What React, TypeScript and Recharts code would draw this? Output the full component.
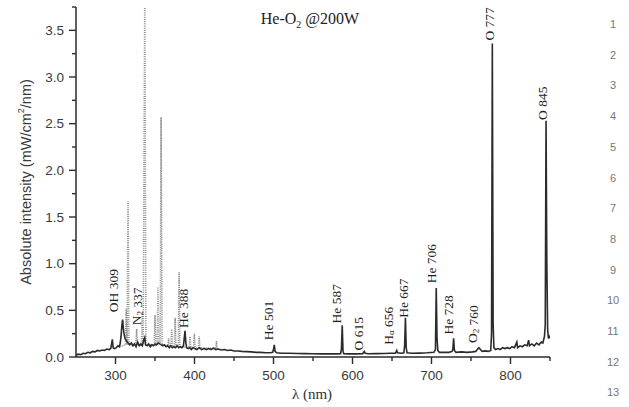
import { ComposedChart, Line, XAxis, YAxis, ReferenceDot } from "recharts";

// He-O2 plasma at 200 W, [wavelength (nm), intensity (mW/cm2/nm)]
const heO2Trace: [number, number][] = [
  [250, 0.02], [253, 0.03], [256, 0.025], [259, 0.04], [262, 0.035], [265, 0.05], [268, 0.045],
  [271, 0.06], [274, 0.055], [277, 0.07], [280, 0.065], [283, 0.075], [286, 0.07], [289, 0.085],
  [292, 0.08], [294, 0.09], [296, 0.19], [297, 0.1], [299, 0.09], [301, 0.1], [303, 0.12],
  [305, 0.11], [306, 0.15], [307, 0.22], [308, 0.33], [309, 0.4], [310, 0.3], [311, 0.24],
  [312, 0.2], [314, 0.17], [316, 0.15], [318, 0.13], [320, 0.15], [322, 0.12], [324, 0.14],
  [326, 0.11], [328, 0.16], [330, 0.12], [332, 0.14], [334, 0.12], [336, 0.19], [337, 0.21],
  [338, 0.13], [340, 0.12], [342, 0.14], [344, 0.11], [346, 0.13], [348, 0.12], [350, 0.14],
  [352, 0.13], [354, 0.15], [356, 0.14], [358, 0.13], [360, 0.12], [362, 0.13], [364, 0.11],
  [366, 0.12], [368, 0.1], [370, 0.12], [372, 0.1], [374, 0.11], [376, 0.1], [378, 0.12],
  [380, 0.1], [382, 0.11], [384, 0.1], [386, 0.12], [387, 0.2], [388, 0.28], [389, 0.16],
  [390, 0.1], [392, 0.09], [394, 0.1], [396, 0.08], [398, 0.1], [400, 0.09], [403, 0.08],
  [406, 0.1], [409, 0.08], [412, 0.09], [415, 0.08], [418, 0.09], [421, 0.08], [424, 0.095],
  [427, 0.08], [430, 0.085], [434, 0.075], [438, 0.08], [442, 0.07], [446, 0.075], [450, 0.065],
  [455, 0.065], [460, 0.06], [466, 0.058], [472, 0.055], [478, 0.05], [484, 0.05], [490, 0.045],
  [496, 0.045], [499, 0.05], [500, 0.08], [501, 0.13], [502, 0.06], [504, 0.045], [510, 0.04],
  [520, 0.04], [530, 0.038], [540, 0.036], [550, 0.035], [560, 0.034], [570, 0.033], [580, 0.033],
  [585, 0.035], [586, 0.09], [587, 0.34], [588, 0.06], [589, 0.035], [595, 0.033], [605, 0.033],
  [613, 0.035], [614, 0.05], [615, 0.06], [616, 0.04], [620, 0.035], [630, 0.036], [640, 0.038],
  [648, 0.04], [654, 0.04], [655, 0.05], [656, 0.07], [657, 0.045], [662, 0.04], [665, 0.045],
  [666, 0.12], [667, 0.42], [668, 0.1], [669, 0.045], [675, 0.04], [685, 0.042], [695, 0.045],
  [703, 0.05], [705, 0.08], [706, 0.74], [707, 0.2], [708, 0.07], [710, 0.05], [716, 0.05],
  [722, 0.05], [726, 0.06], [727, 0.08], [728, 0.2], [729, 0.07], [731, 0.05], [738, 0.055],
  [745, 0.05], [752, 0.055], [756, 0.06], [758, 0.08], [760, 0.1], [762, 0.08], [764, 0.06],
  [768, 0.065], [772, 0.06], [775, 0.07], [776, 0.25], [777, 3.36], [778, 0.35], [779, 0.1],
  [781, 0.08], [784, 0.09], [787, 0.08], [790, 0.1], [793, 0.09], [796, 0.1], [799, 0.09],
  [802, 0.11], [805, 0.1], [808, 0.16], [809, 0.1], [812, 0.12], [815, 0.11], [818, 0.13],
  [821, 0.12], [823, 0.18], [824, 0.12], [827, 0.14], [830, 0.12], [833, 0.15], [836, 0.13],
  [839, 0.16], [841, 0.15], [843, 0.22], [844, 0.35], [845, 2.53], [846, 1.0], [847, 0.3],
  [848, 0.2], [849, 0.22], [850, 0.2],
];

// N2 second positive bands (dotted trace)
const n2Trace: [number, number][] = [
  [305, 0.11], [312.5, 0.13], [313.6, 0.52], [314.6, 0.13], [315.9, 1.67], [317, 0.14],
  [325.5, 0.13], [326.8, 0.3], [328, 0.13], [332.8, 0.13], [333.9, 0.48], [335, 0.14],
  [337.1, 3.9], [338.5, 0.13], [349, 0.13], [350, 0.45], [351, 0.13], [352.7, 0.14],
  [353.7, 0.75], [354.8, 0.15], [356.6, 0.15], [357.7, 2.57], [359, 0.13], [366.2, 0.12],
  [367.2, 0.2], [368.2, 0.12], [370.1, 0.12], [371.1, 0.3], [372.1, 0.12], [374.5, 0.12],
  [375.5, 0.42], [376.5, 0.12], [379.5, 0.12], [380.5, 0.91], [381.5, 0.11], [393.3, 0.1],
  [394.3, 0.22], [395.3, 0.1], [398.8, 0.1], [399.8, 0.25], [400.8, 0.1], [404.9, 0.1],
  [405.9, 0.22], [406.9, 0.1], [426.8, 0.09], [427.8, 0.17], [428.8, 0.09],
];

// line labels: anchored at [nm, intensity] of the label's lower end
const peakLabels = [
  { pre: "OH 309", nm: 297, at: 0.48 },
  { pre: "N", sub: "2", post: " 337", nm: 327, at: 0.34 },
  { pre: "He 388", nm: 386, at: 0.31 },
  { pre: "He 501", nm: 494, at: 0.18 },
  { pre: "He 587", nm: 580, at: 0.36 },
  { pre: "O 615", nm: 608, at: 0.07 },
  { pre: "H", sub: "α", post: " 656", nm: 645, at: 0.13 },
  { pre: "He 667", nm: 665, at: 0.42 },
  { pre: "He 706", nm: 700, at: 0.79 },
  { pre: "He 728", nm: 721, at: 0.24 },
  { pre: "O", sub: "2", post: " 760", nm: 752.5, at: 0.15 },
  { pre: "O 777", nm: 773, at: 3.39 },
  { pre: "O 845", nm: 840.5, at: 2.54 },
];

const xTicks = [300, 350, 400, 450, 500, 550, 600, 650, 700, 750, 800, 850];
const yTicks = [0, 0.25, 0.5, 0.75, 1, 1.25, 1.5, 1.75, 2, 2.25, 2.5, 2.75, 3, 3.25, 3.5, 3.75];
const lineNumbers = ["1", "2", "3", "4", "5", "6", "7", "8", "9", "10", "11", "12", "13"];

const INK = "#2b2b2b";
const SANS = "Liberation Sans, Arial, sans-serif";
const SERIF = "Liberation Serif, Times New Roman, serif";

const YTick = ({ x, y, payload }: any) => {
  const major = payload.value % 0.5 === 0;
  return (
    <g>
      <line x1={x - (major ? 7 : 4)} x2={x} y1={y} y2={y} stroke={INK} strokeWidth={1.4} />
      {major && (
        <text x={x - 12} y={y} textAnchor="end" dominantBaseline="central" fontFamily={SANS} fontSize={13.5} fill="#3a3a3a">
          {payload.value.toFixed(1)}
        </text>
      )}
    </g>
  );
};

const XTick = ({ x, y, payload }: any) => {
  const major = payload.value % 100 === 0;
  return (
    <g>
      <line x1={x} x2={x} y1={y} y2={y + (major ? 7 : 4)} stroke={INK} strokeWidth={1.4} />
      {major && (
        <text x={x} y={y + 18} textAnchor="middle" dominantBaseline="central" fontFamily={SANS} fontSize={13.5} fill="#3a3a3a">
          {payload.value}
        </text>
      )}
    </g>
  );
};

const PeakLabel = ({ cx, cy, pre, sub, post }: any) => (
  <text
    x={cx}
    y={cy}
    transform={`rotate(-90 ${cx} ${cy})`}
    dominantBaseline="central"
    fontFamily={SERIF}
    fontSize={13.5}
    fill="#1e1e1e"
  >
    {pre}
    {sub && <tspan dy={3} fontSize={9}>{sub}</tspan>}
    {sub && <tspan dy={-3}>{post}</tspan>}
  </text>
);

export default function App() {
  const main = heO2Trace.map(([nm, v]) => ({ nm, v }));
  const n2 = n2Trace.map(([nm, v]) => ({ nm, v }));

  return (
    <div style={{ position: "absolute", left: 0, top: 0, width: 629, height: 407, background: "#fff" }}>
      <ComposedChart width={629} height={407} margin={{ top: 7, right: 79, left: 0, bottom: 0 }}>
        <XAxis
          type="number"
          dataKey="nm"
          domain={[250, 850]}
          ticks={xTicks}
          interval={0}
          allowDataOverflow
          height={50}
          tickSize={0}
          tickMargin={0}
          tickLine={false}
          tick={<XTick />}
          axisLine={{ stroke: INK, strokeWidth: 1.5 }}
        />
        <YAxis
          type="number"
          domain={[0, 3.75]}
          ticks={yTicks}
          interval={0}
          allowDataOverflow
          width={76}
          tickSize={0}
          tickMargin={0}
          tickLine={false}
          tick={<YTick />}
          axisLine={{ stroke: INK, strokeWidth: 1.5 }}
        />
        <Line
          data={n2}
          dataKey="v"
          type="linear"
          stroke="#8c8c8c"
          strokeWidth={1.6}
          strokeDasharray="1 1.2"
          dot={false}
          isAnimationActive={false}
        />
        <Line
          data={main}
          dataKey="v"
          type="linear"
          stroke={INK}
          strokeWidth={1.6}
          dot={false}
          isAnimationActive={false}
        />
        {peakLabels.map((p) => (
          <ReferenceDot
            key={p.pre + (p.post || "")}
            x={p.nm}
            y={p.at}
            r={0}
            ifOverflow="visible"
            shape={(props: any) => <PeakLabel cx={props.cx} cy={props.cy} pre={p.pre} sub={p.sub} post={p.post} />}
          />
        ))}
      </ComposedChart>
      <svg width={629} height={407} style={{ position: "absolute", left: 0, top: 0, pointerEvents: "none" }}>
        <text x={310} y={24} textAnchor="middle" fontFamily={SERIF} fontSize={16} fill="#222">
          He-O<tspan dy={4} fontSize={10}>2</tspan>
          <tspan dy={-4}> @200W</tspan>
        </text>
        <text x={312} y={399} textAnchor="middle" fontFamily={SERIF} fontSize={15} fill="#333">
          λ (nm)
        </text>
        <text
          x={26}
          y={182}
          transform="rotate(-90 26 182)"
          textAnchor="middle"
          dominantBaseline="central"
          fontFamily={SANS}
          fontSize={14.5}
          fill="#3a3a3a"
        >
          Absolute intensity (mW/cm<tspan dy={-5} fontSize={9}>2</tspan>
          <tspan dy={5}>/nm)</tspan>
        </text>
        {lineNumbers.map((n, i) => (
          <text key={n} x={613} y={24 + i * 30.7} textAnchor="middle" dominantBaseline="central" fontFamily={SANS} fontSize={11} fill="#777">
            {n}
          </text>
        ))}
      </svg>
    </div>
  );
}
